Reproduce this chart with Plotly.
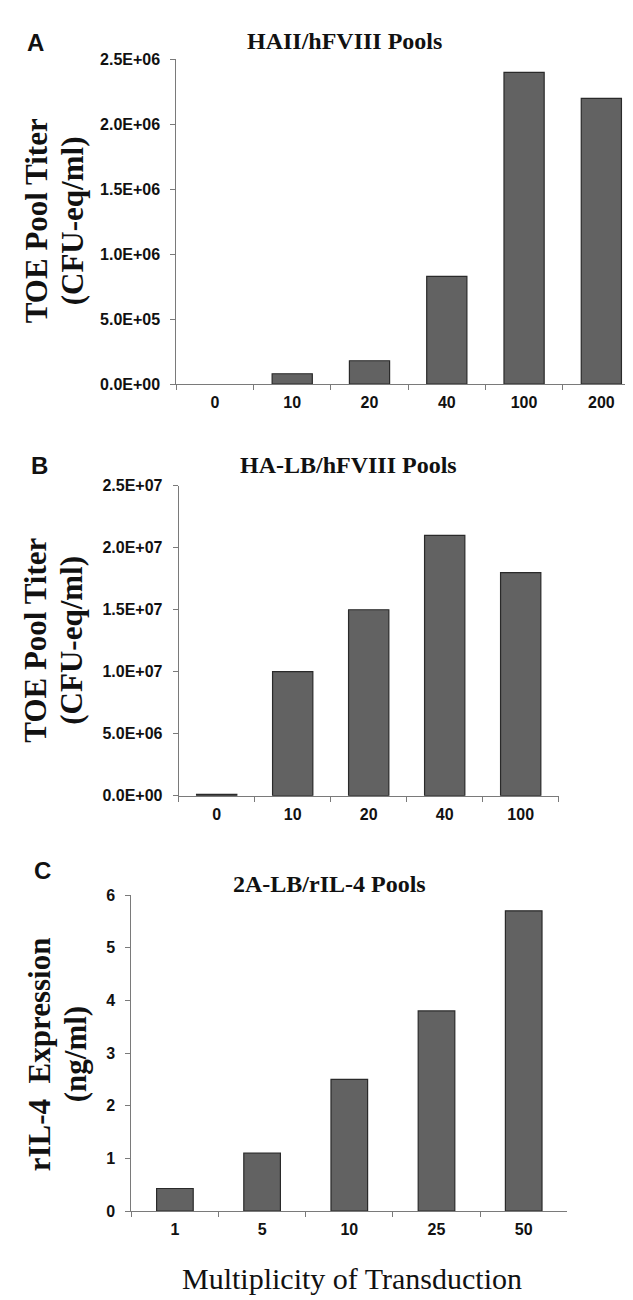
import plotly.graph_objects as go

# ---------------- data ----------------
a_categories = ["0", "10", "20", "40", "100", "200"]
a_values = [0, 8.0e4, 1.8e5, 8.3e5, 2.4e6, 2.2e6]
a_tickvals = [0, 5e5, 1e6, 1.5e6, 2e6, 2.5e6]
a_ticktext = ["0.0E+00", "5.0E+05", "1.0E+06", "1.5E+06", "2.0E+06", "2.5E+06"]

b_categories = ["0", "10", "20", "40", "100"]
b_values = [1.0e5, 1.0e7, 1.5e7, 2.1e7, 1.8e7]
b_tickvals = [0, 5e6, 1e7, 1.5e7, 2e7, 2.5e7]
b_ticktext = ["0.0E+00", "5.0E+06", "1.0E+07", "1.5E+07", "2.0E+07", "2.5E+07"]

c_categories = ["1", "5", "10", "25", "50"]
c_values = [0.43, 1.1, 2.5, 3.8, 5.7]
c_tickvals = [0, 1, 2, 3, 4, 5, 6]
c_ticktext = ["0", "1", "2", "3", "4", "5", "6"]

titles = ["HAII/hFVIII Pools", "HA-LB/hFVIII Pools", "2A-LB/rIL-4 Pools"]
panel_letters = ["A", "B", "C"]
ytitles_line1 = ["TOE Pool Titer", "TOE Pool Titer", "rIL-4\u00a0\u00a0Expression"]
ytitles_line2 = ["(CFU-eq/ml)", "(CFU-eq/ml)", "(ng/ml)"]
xtitle = "Multiplicity of Transduction"

# ---------------- layout helpers ----------------
W, H = 633, 1300
def px_x(x):
    return x / W
def px_y(y):
    return 1 - y / H

SANS = "Liberation Sans, Arial, sans-serif"
SERIF = "Liberation Serif, Times New Roman, serif"
BAR_FILL = "#626262"
BAR_LINE = "#2a2a2a"
AXIS_COL = "#7a7a7a"

fig = go.Figure()

panels = [
    dict(cats=a_categories, vals=a_values, tv=a_tickvals, tt=a_ticktext, rng=[0, 2.5e6],
         x0=168.3, x1=632, y0=373, y1=44, gap=0.48),
    dict(cats=b_categories, vals=b_values, tv=b_tickvals, tt=b_ticktext, rng=[0, 2.5e7],
         x0=170.7, x1=550.7, y0=790, y1=476, gap=0.47),
    dict(cats=c_categories, vals=c_values, tv=c_tickvals, tt=c_ticktext, rng=[0, 6],
         x0=123.3, x1=559.3, y0=1211, y1=890.7, gap=0.58),
]

for i, p in enumerate(panels):
    n = "" if i == 0 else str(i + 1)
    line_w = [1.2 if v > 0 else 0 for v in p["vals"]]
    fig.add_trace(go.Bar(
        x=p["cats"], y=p["vals"], xaxis="x" + n, yaxis="y" + n,
        marker=dict(color=BAR_FILL, line=dict(color=BAR_LINE, width=line_w)),
        width=1 - p["gap"], showlegend=False, hoverinfo="x+y",
    ))
    xa = dict(
        domain=[px_x(p["x0"]), px_x(p["x1"])], anchor="y" + n,
        type="category", showline=True, linecolor=AXIS_COL, linewidth=1,
        ticks="outside", tickson="boundaries", ticklen=5, tickcolor=AXIS_COL,
        tickfont=dict(family=SANS, size=16, color="#111111", weight="bold"),
        ticklabelstandoff=4, showgrid=False, zeroline=False, fixedrange=True,
    )
    ya = dict(
        domain=[px_y(p["y0"]), px_y(p["y1"])], anchor="x" + n,
        range=p["rng"], showline=True, linecolor=AXIS_COL, linewidth=1,
        ticks="outside", ticklen=5, tickcolor=AXIS_COL,
        tickvals=p["tv"], ticktext=p["tt"],
        tickfont=dict(family=SANS, size=16, color="#111111", weight="bold"),
        ticklabelstandoff=7, showgrid=False, zeroline=False, fixedrange=True,
    )
    fig.layout["xaxis" + n] = xa
    fig.layout["yaxis" + n] = ya

annotations = []
title_pos = [(336, 25), (340, 455), (321, 879)]
letter_pos = [(27, 27), (31, 455), (34, 866)]
ytitle_x = [(28, 64), (28, 64), (31, 67)]
ytitle_y = [208, 633, 1052]

for i in range(3):
    tx, ty = title_pos[i]
    annotations.append(dict(
        text=titles[i], x=px_x(tx), y=px_y(ty), xref="paper", yref="paper",
        showarrow=False, xanchor="center", yanchor="middle",
        font=dict(family=SERIF, size=24, color="#111111", weight="bold"),
    ))
    lx, ly = letter_pos[i]
    annotations.append(dict(
        text=panel_letters[i], x=px_x(lx), y=px_y(ly), xref="paper", yref="paper",
        showarrow=False, xanchor="center", yanchor="middle",
        font=dict(family=SANS, size=24, color="#111111", weight="bold"),
    ))
    x1, x2 = ytitle_x[i]
    annotations.append(dict(
        text=ytitles_line1[i], x=px_x(x1), y=px_y(ytitle_y[i]), xref="paper", yref="paper",
        showarrow=False, xanchor="center", yanchor="middle", textangle=-90,
        font=dict(family=SERIF, size=31, color="#111111", weight="bold"),
    ))
    annotations.append(dict(
        text=ytitles_line2[i], x=px_x(x2), y=px_y(ytitle_y[i]), xref="paper", yref="paper",
        showarrow=False, xanchor="center", yanchor="middle", textangle=-90,
        font=dict(family=SERIF, size=31, color="#111111", weight="bold"),
    ))

annotations.append(dict(
    text=xtitle, x=px_x(344), y=px_y(1279), xref="paper", yref="paper",
    showarrow=False, xanchor="center", yanchor="middle",
    font=dict(family=SERIF, size=30, color="#111111"),
))

fig.update_layout(
    width=W, height=H, margin=dict(l=0, r=0, t=0, b=0),
    paper_bgcolor="white", plot_bgcolor="white",
    annotations=annotations, bargap=0.5,
)

fig.write_html("out.html", config={"displayModeBar": False})
